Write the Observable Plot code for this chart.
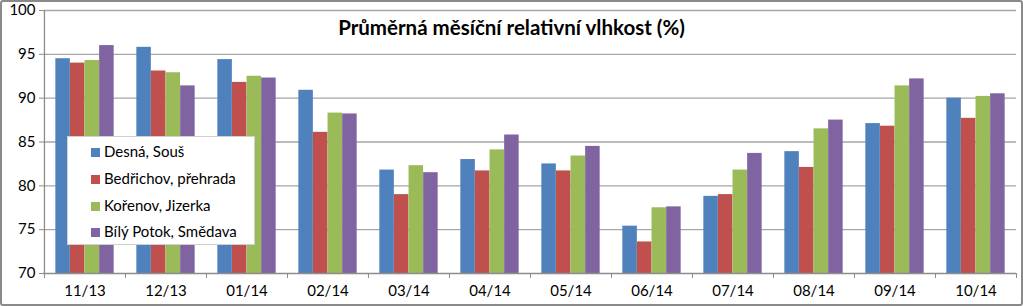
<!DOCTYPE html>
<html><head><meta charset="utf-8">
<script src="https://cdn.jsdelivr.net/npm/d3@7"></script>
<script src="https://cdn.jsdelivr.net/npm/@observablehq/plot@0.6"></script>
<style>
body{margin:0;background:#fff;}
#wrap{position:relative;width:1023px;height:306px;overflow:hidden;background:#fff;}
#frame{position:absolute;left:0;top:0;width:1019px;height:302px;border:2px solid #8a8a8a;border-radius:3px;pointer-events:none;}
#title{position:absolute;top:15px;left:0;width:1023px;text-align:center;font:bold 20.5px Lato,sans-serif;line-height:24px;color:#000;}
#legend{position:absolute;left:67px;top:136px;width:188px;height:109px;border:1px solid #d0d0d0;background:#fff;box-sizing:border-box;font:15px Lato,sans-serif;color:#000;}
.li{position:absolute;left:23px;height:18px;line-height:18px;white-space:nowrap;}
.sw{display:inline-block;width:9px;height:9px;margin-right:4px;vertical-align:0px;}
</style></head>
<body><div id="wrap"></div>
<script>
const months = ["11/13","12/13","01/14","02/14","03/14","04/14","05/14","06/14","07/14","08/14","09/14","10/14"];
const seriesNames = ["Desná, Souš","Bedřichov, přehrada","Kořenov, Jizerka","Bílý Potok, Smědava"];
const desna     = [94.5, 95.8, 94.4, 90.9, 81.8, 83.0, 82.5, 75.4, 78.8, 83.9, 87.1, 90.0];
const bedrichov = [94.0, 93.1, 91.8, 86.1, 79.0, 81.7, 81.7, 73.6, 79.0, 82.1, 86.8, 87.7];
const korenov   = [94.3, 92.9, 92.5, 88.3, 82.3, 84.1, 83.4, 77.5, 81.8, 86.5, 91.4, 90.2];
const bilyPotok = [96.0, 91.4, 92.3, 88.2, 81.5, 85.8, 84.5, 77.6, 83.7, 87.5, 92.2, 90.5];
const yTicks = [70, 75, 80, 85, 90, 95, 100];
const titleText = "Průměrná měsíční relativní vlhkost (%)";
const colors = ["#4F81BD", "#C0504D", "#9BBB59", "#8064A2"];

const seriesValues = [desna, bedrichov, korenov, bilyPotok];
const data = [];
seriesValues.forEach((vals, si) => vals.forEach((v, mi) => data.push({month: months[mi], series: seriesNames[si], value: v})));

const W = 1023, H = 306, mL = 43, mR = 7, mT = 10, mB = 33;
const bw = (W - mL - mR) / months.length;
const barW = 14.6;
const pad = (bw - 4 * barW) / 2;
const gray = "#8c8c8c";

const marks = [
  Plot.ruleY(yTicks.filter(t => t > 70), {y: d => d, stroke: "#a6a6a6", strokeWidth: 1.3}),
];
seriesNames.forEach((s, i) => {
  marks.push(Plot.barY(data.filter(d => d.series === s), {
    x: "month", y1: 70, y2: "value", fill: colors[i],
    insetLeft: pad + i * barW, insetRight: bw - pad - (i + 1) * barW
  }));
});
marks.push(
  Plot.ruleY([70], {stroke: gray, strokeWidth: 1.3}),
  Plot.ruleX([months[0]], {x: d => d, y1: 70, y2: 100, dx: -bw / 2, stroke: gray, strokeWidth: 1.3}),
  Plot.ruleX(months, {x: d => d, y1: 70, y2: 70, insetBottom: -5, dx: -bw / 2, stroke: gray}),
  Plot.ruleX([months[months.length - 1]], {x: d => d, y1: 70, y2: 70, insetBottom: -5, dx: bw / 2, stroke: gray}),
  Plot.axisY({ticks: yTicks, tickSize: 4, tickPadding: 4, stroke: gray, fill: "#000", fontSize: 15, label: null}),
  Plot.axisX({tickSize: 0, tickPadding: 12, fill: "#000", fontSize: 15, label: null})
);

const chart = Plot.plot({
  width: W, height: H,
  marginLeft: mL, marginRight: mR, marginTop: mT, marginBottom: mB,
  style: {fontFamily: "Lato, sans-serif", background: "#fff", color: "#000"},
  x: {type: "band", domain: months, padding: 0, label: null},
  y: {domain: [70, 100], label: null},
  marks
});

const wrap = document.getElementById("wrap");
wrap.appendChild(chart);
const title = document.createElement("div");
title.id = "title"; title.textContent = titleText; wrap.appendChild(title);
const legend = document.createElement("div");
legend.id = "legend";
const rowTops = [5, 32, 59, 85];
seriesNames.forEach((s, i) => {
  const li = document.createElement("div");
  li.className = "li"; li.style.top = rowTops[i] + "px";
  li.innerHTML = `<span class="sw" style="background:${colors[i]}"></span>`;
  li.appendChild(document.createTextNode(s));
  legend.appendChild(li);
});
wrap.appendChild(legend);
const fr = document.createElement("div"); fr.id = "frame"; wrap.appendChild(fr);
</script></body></html>
